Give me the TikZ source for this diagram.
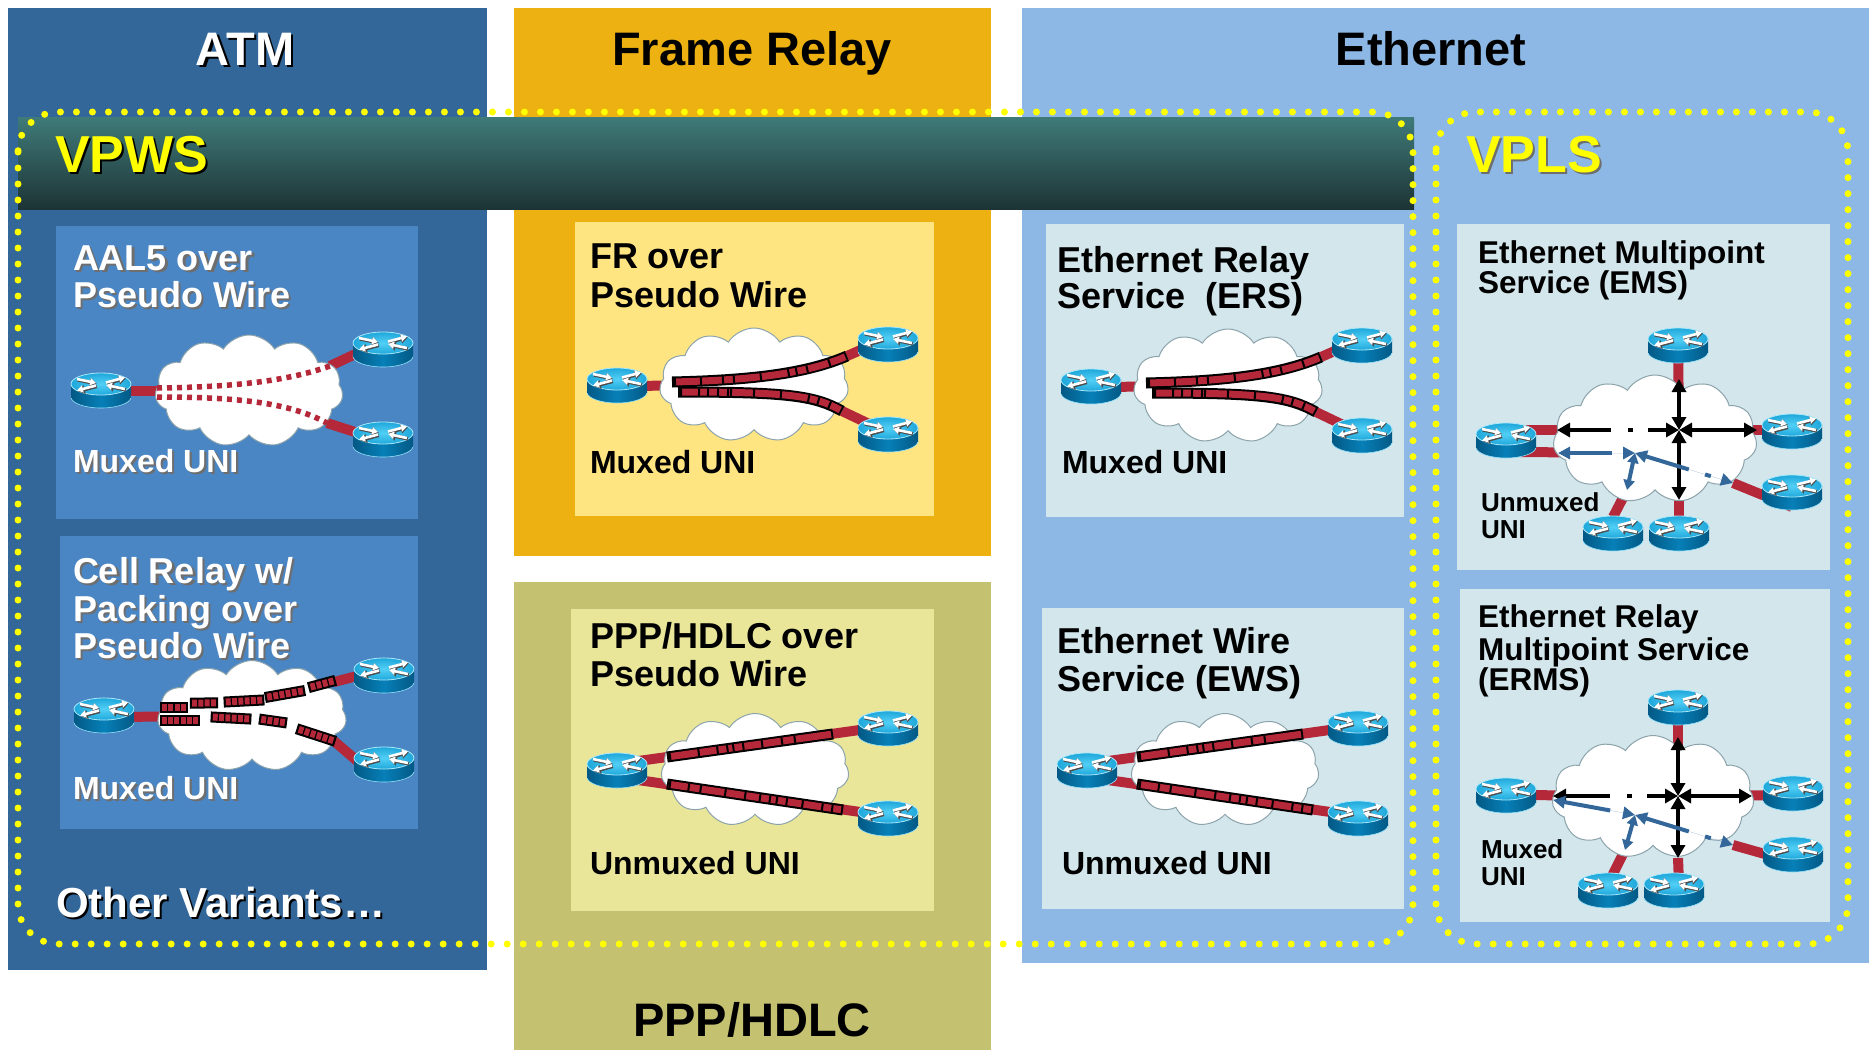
\documentclass[tikz,border=0pt]{standalone}
\usepackage{fontspec}
\setmainfont{Liberation Sans}
\usetikzlibrary{shapes.symbols,arrows.meta}

\definecolor{cAtm}{HTML}{336699}
\definecolor{cAtmBox}{HTML}{4A85C4}
\definecolor{cFr}{HTML}{EDB111}
\definecolor{cFrBox}{HTML}{FFE581}
\definecolor{cPpp}{HTML}{C4C170}
\definecolor{cPppBox}{HTML}{E9E69A}
\definecolor{cEth}{HTML}{8DB8E5}
\definecolor{cEthBox}{HTML}{D2E6EC}
\definecolor{cBandTop}{HTML}{3F7B79}
\definecolor{cBandBot}{HTML}{1D3335}
\definecolor{cDot}{HTML}{FFFF00}
\definecolor{cWire}{HTML}{B5283A}
\definecolor{cRtop}{HTML}{1FA8DB}
\definecolor{cRtopIn}{HTML}{52CFF6}
\definecolor{cRside}{HTML}{0780B8}
\definecolor{cRsideDark}{HTML}{035985}
\definecolor{cCloudEdge}{HTML}{8CA3AB}
\definecolor{cFlow}{HTML}{336699}
\definecolor{cSoftShadow}{HTML}{6E6E6E}

\pgfdeclarelayer{panel}
\pgfdeclarelayer{wire}
\pgfdeclarelayer{cloudlayer}
\pgfdeclarelayer{topmost}
\pgfsetlayers{panel,wire,cloudlayer,main,topmost}

\newcommand\fsz[1]{\fontsize{#1}{#1}\selectfont\bfseries}

\tikzset{
  panelbox/.style={anchor=north west, inner sep=0pt, outer sep=0pt},
  lbl/.style={anchor=base west, inner sep=0pt, outer sep=0pt},
  headlbl/.style={anchor=base, inner sep=0pt, outer sep=0pt, font=\fsz{47}},
  ttl/.style={lbl, font=\fsz{36}},
  uni/.style={lbl, font=\fsz{32}},
  vttl/.style={lbl, font=\fsz{31.5}},
  vuni/.style={lbl, font=\fsz{26}},
  rtrnode/.style={inner sep=0pt, outer sep=0pt, minimum width=60pt, minimum height=24pt},
  cloudsh/.style={cloud, cloud puffs=11, cloud puff arc=115, cloud ignores aspect,
    fill=white, draw=cCloudEdge, line width=1pt, inner sep=0pt},
  link/.style={draw=cWire, line width=10pt},
  reddots/.style={draw=cWire, line width=5.5pt, dash pattern=on 5pt off 5pt},
  bandblack/.style={draw=black, line width=11pt},
  bandred/.style={draw=cWire, line width=7pt, shorten <=2pt, shorten >=2pt},
  bandsep/.style={draw=black, line width=7.5pt, shorten <=2pt, shorten >=2pt},
  ydots/.style={draw=cDot, line width=7pt, line cap=round, dash pattern=on 0pt off 16pt, rounded corners=40pt},
  blk/.style={draw=black, line width=4.5pt, arrows={Triangle[length=13pt,width=14pt]-Triangle[length=13pt,width=14pt]}},
  blu/.style={draw=cFlow, fill=cFlow, line width=4pt, arrows={Triangle[length=12pt,width=12pt]-Triangle[length=12pt,width=12pt]}},
  blushort/.style={draw=cFlow, fill=cFlow, line width=4pt, arrows={Triangle[length=10pt,width=11pt]-Triangle[length=10pt,width=11pt]}},
  router/.pic={
    \shadedraw[left color=cRsideDark, right color=cRsideDark, middle color=cRside,
      draw=cRtopIn!60!white, line width=0.6pt] (0,13) ellipse[x radius=30, y radius=11];
    \shade[left color=cRsideDark, right color=cRsideDark, middle color=cRside] (-30,0) rectangle (30,13);
    \shadedraw[inner color=cRtopIn, outer color=cRtop, draw=cRtopIn!50!white, line width=0.8pt]
      (0,0) ellipse[x radius=30, y radius=11];
    \begin{scope}[black!70, line width=3.6pt, arrows={-Triangle[length=7pt,width=8.5pt]}, xshift=0.8pt, yshift=-0.8pt]
      \draw (-24,-5) -- (-5,-1);
      \draw (24,5) -- (5,1);
      \draw (5,-1.5) -- (24,-6.5);
      \draw (-5,1.5) -- (-24,6.5);
    \end{scope}
    \begin{scope}[white, line width=2.6pt, arrows={-Triangle[length=6pt,width=7pt]}]
      \draw (-24,-5) -- (-5,-1);
      \draw (24,5) -- (5,1);
      \draw (5,-1.5) -- (24,-6.5);
      \draw (-5,1.5) -- (-24,6.5);
    \end{scope}
  }
}

% router: named anchor node plus the drawn icon
\newcommand\router[3]{\node[rtrnode] (#1) at (#2,#3) {};\pic at (#2,#3) {router};}
% cloud: name, x, y, width, height
\newcommand\cloudat[5]{\begin{pgfonlayer}{cloudlayer}\node[cloudsh, minimum width=#4pt, minimum height=#5pt] (#1) at (#2,#3) {};\end{pgfonlayer}}
% text with a drop shadow: name, x, y, style, shadow colour, text
\newcommand\shtext[6]{\node[#4, text=#5, xshift=2.2pt, yshift=-2.2pt] at (#2,#3) {#6};\node[#4] (#1) at (#2,#3) {#6};}
% framed red band with black frame separators
\newcommand\fband[2]{\draw[bandblack] #1;\draw[bandred] #1;\draw[bandsep,#2] #1;}
% ATM cell packet: x, y, angle, number of cells
\newcommand\cellpkt[4]{%
  \begin{scope}[shift={(#1,#2)}, rotate=#3]
    \pgfmathsetmacro\pktw{#4*6.3+3}
    \fill[black] ({-\pktw/2},-5.5) rectangle ({\pktw/2},5.5);
    \foreach \k in {1,...,#4}{\fill[cWire] ({-\pktw/2+2.2+(\k-1)*6.3},-3.5) rectangle ++(4.9,7);}
  \end{scope}}

% frame relay style network (muxed UNI, two curved frame streams)
\newcommand\frnet[1]{%
  \router{#1L}{617}{379}\router{#1RT}{888}{338}\router{#1RB}{888}{428}%
  \cloudat{#1C}{754}{385}{189}{114}%
  \coordinate (#1u0) at (672,382);\coordinate (#1u1) at (847,356);%
  \coordinate (#1l0) at (678,392);\coordinate (#1l1) at (842,411);%
  \begin{pgfonlayer}{wire}
    \draw[link] ([yshift=-7pt]#1L.center) -- (#1C.center);
    \draw[link] (#1u1) -- (#1RT.center);
    \draw[link] (#1l1) -- ([yshift=-5pt]#1RB.center);
  \end{pgfonlayer}
  \fband{(#1u0) .. controls (760,380) and (810,372) .. (#1u1)}{dash pattern=on 2pt off 24pt on 2pt off 20pt on 2pt off 9pt on 2pt off 25pt on 2pt off 26pt on 2pt off 6pt on 2pt off 9pt on 2pt off 21pt on 2pt off 60pt}
  \fband{(#1l0) .. controls (790,392) and (815,396) .. (#1l1)}{dash pattern=on 2pt off 16pt on 2pt off 7pt on 2pt off 8pt on 2pt off 8pt on 2pt off 1pt on 2pt off 21pt on 2pt off 25pt on 2pt off 26pt on 2pt off 8pt on 2pt off 10pt on 2pt off 60pt}
}

% point-to-point network (unmuxed UNI, two separate links)
\newcommand\pppnet[1]{%
  \router{#1L}{617}{764}\router{#1RT}{888}{722}\router{#1RB}{888}{812}%
  \cloudat{#1C}{755}{770}{188}{113}%
  \begin{pgfonlayer}{wire}
    \draw[link] (#1L.center) -- ([yshift=-4pt]#1RT.center);
    \draw[link] ([yshift=-13pt]#1L.center) -- ([yshift=-4pt]#1RB.center);
  \end{pgfonlayer}
  \fband{(667,757) -- (833,734)}{dash pattern=on 2pt off 27pt on 2pt off 17pt on 2pt off 8pt on 2pt off 4pt on 2pt off 8pt on 2pt off 17pt on 2pt off 18pt on 2pt off 11pt on 2pt off 80pt}
  \fband{(667,784) -- (843,810)}{dash pattern=on 2pt off 17pt on 2pt off 10pt on 2pt off 23pt on 2pt off 18pt on 2pt off 13pt on 2pt off 8pt on 2pt off 5pt on 2pt off 8pt on 2pt off 14pt on 2pt off 18pt on 2pt off 8pt on 2pt off 60pt}
}

\begin{document}
\begin{tikzpicture}[x=1pt,y=-1pt]
\useasboundingbox (0,0) rectangle (1869,1050);

% ---------- columns, band and service boxes ----------
\begin{pgfonlayer}{panel}
  \fill[white] (0,0) rectangle (1869,1050);
  \node[panelbox, fill=cAtm, minimum width=479pt, minimum height=962pt] (atm) at (8,8) {};
  \node[panelbox, fill=cFr, minimum width=477pt, minimum height=548pt] (fr) at (514,8) {};
  \node[panelbox, fill=cPpp, minimum width=477pt, minimum height=468pt] (ppp) at (514,582) {};
  \node[panelbox, fill=cEth, minimum width=847pt, minimum height=955pt] (eth) at (1022,8) {};
  \node[panelbox, top color=cBandTop, bottom color=cBandBot, minimum width=1396pt, minimum height=92pt] (vpwsband) at (18,117) {};
  \node[panelbox, fill=cAtmBox, minimum width=362pt, minimum height=293pt] (aalbox) at (56,226) {};
  \node[panelbox, fill=cAtmBox, minimum width=358pt, minimum height=293pt] (cellbox) at (60,536) {};
  \node[panelbox, fill=cFrBox, minimum width=359pt, minimum height=294pt] (frpwbox) at (575,222) {};
  \node[panelbox, fill=cPppBox, minimum width=363pt, minimum height=302pt] (ppppwbox) at (571,609) {};
  \node[panelbox, fill=cEthBox, minimum width=358pt, minimum height=293pt] (ersbox) at (1046,224) {};
  \node[panelbox, fill=cEthBox, minimum width=362pt, minimum height=301pt] (ewsbox) at (1042,608) {};
  \node[panelbox, fill=cEthBox, minimum width=373pt, minimum height=346pt] (emsbox) at (1457,224) {};
  \node[panelbox, fill=cEthBox, minimum width=370pt, minimum height=333pt] (ermsbox) at (1460,589) {};
\end{pgfonlayer}

% ---------- headings ----------
\shtext{atmhead}{245}{65}{headlbl,text=white}{black}{ATM}
\node[headlbl] (frhead) at (752,65) {Frame Relay};
\node[headlbl] (ethhead) at (1431,65) {Ethernet};
\node[headlbl] (ppphead) at (752,1036) {PPP/HDLC};
\shtext{vpwslbl}{55}{172}{lbl,font=\fsz{52},text=cDot}{black}{VPWS}
\shtext{vplslbl}{1466}{172}{lbl,font=\fsz{52},text=cDot}{cSoftShadow}{VPLS}

% ---------- service titles ----------
\shtext{aalA}{73}{270}{ttl,text=white}{cSoftShadow}{AAL5 over}
\shtext{aalB}{73}{307}{ttl,text=white}{cSoftShadow}{Pseudo Wire}
\shtext{aalC}{73}{472}{uni,text=white}{cSoftShadow}{Muxed UNI}
\shtext{crA}{73}{583}{ttl,text=white}{cSoftShadow}{Cell Relay w/}
\shtext{crB}{73}{621}{ttl,text=white}{cSoftShadow}{Packing over}
\shtext{crC}{73}{658}{ttl,text=white}{cSoftShadow}{Pseudo Wire}
\shtext{crD}{73}{799}{uni,text=white}{cSoftShadow}{Muxed UNI}
\shtext{otherlbl}{56}{917}{lbl,font=\fsz{42},text=white}{black}{Other Variants…}

\node[ttl] (frA) at (590,268) {FR over};
\node[ttl] (frB) at (590,307) {Pseudo Wire};
\node[uni] (frC) at (590,473) {Muxed UNI};
\node[ttl] (pppA) at (590,648) {PPP/HDLC over};
\node[ttl] (pppB) at (590,686) {Pseudo Wire};
\node[uni] (pppC) at (590,874) {Unmuxed UNI};
\node[ttl] (ersA) at (1057,272) {Ethernet Relay};
\node[ttl] (ersB) at (1057,308) {Service~~(ERS)};
\node[uni] (ersC) at (1062,473) {Muxed UNI};
\node[ttl] (ewsA) at (1057,653) {Ethernet Wire};
\node[ttl] (ewsB) at (1057,691) {Service (EWS)};
\node[uni] (ewsC) at (1062,874) {Unmuxed UNI};
\node[vttl] (emsA) at (1478,263) {Ethernet Multipoint};
\node[vttl] (emsB) at (1478,293) {Service (EMS)};
\node[vuni] (emsC) at (1481,511) {Unmuxed};
\node[vuni] (emsD) at (1481,538) {UNI};
\node[vttl] (ermsA) at (1478,627) {Ethernet Relay};
\node[vttl] (ermsB) at (1478,660) {Multipoint Service};
\node[vttl] (ermsC) at (1478,690) {(ERMS)};
\node[vuni] (ermsD) at (1481,858) {Muxed};
\node[vuni] (ermsE) at (1481,885) {UNI};

% ---------- AAL5 over pseudo wire ----------
\cloudat{aC}{249}{391}{188}{112}
\coordinate (aU1) at (330,366);
\coordinate (aL1) at (327,423);
\draw[reddots] (157,388) .. controls (240,387) and (290,380) .. (aU1);
\draw[reddots] (157,397) .. controls (240,397) and (290,403) .. (aL1);
\router{aL}{101}{384}
\router{aRT}{383}{343}
\router{aRB}{383}{433}
\begin{pgfonlayer}{wire}
  \draw[link] ([yshift=-7pt]aL.center) -- (aC.center);
  \draw[link] (aU1) -- ([yshift=2pt]aRT.center);
  \draw[link] (aL1) -- ([yshift=-8pt]aRB.center);
\end{pgfonlayer}

% ---------- cell relay with packing ----------
\cloudat{cC}{252}{716}{189}{111}
\coordinate (cU1) at (334,682);
\coordinate (cL1) at (334,741);
\router{cL}{104}{709}
\router{cRT}{384}{669}
\router{cRB}{384}{758}
\begin{pgfonlayer}{wire}
  \draw[link] ([yshift=-8pt]cL.center) -- (cC.center);
  \draw[link] (cU1) -- (cRT.center);
  \draw[link] (cL1) -- ([xshift=-14pt,yshift=-14pt]cRB.center);
\end{pgfonlayer}
\cellpkt{174}{707}{0}{4}
\cellpkt{204}{703}{1}{4}
\cellpkt{244}{701}{3}{6}
\cellpkt{285}{694}{10}{6}
\cellpkt{322}{684}{15}{4}
\cellpkt{180}{720}{0}{6}
\cellpkt{231}{718}{-3}{6}
\cellpkt{273}{721}{-8}{4}
\cellpkt{316}{735}{-18}{6}

% ---------- FR and ERS ----------
\frnet{f}
\begin{scope}[shift={(474,1)}]
  \frnet{e}
\end{scope}

% ---------- PPP/HDLC and EWS ----------
\pppnet{p}
\begin{scope}[shift={(470,0)}]
  \pppnet{w}
\end{scope}

% ---------- EMS ----------
\router{mT}{1678}{339}
\router{mL}{1506}{434}
\router{mR1}{1792}{425}
\router{mR2}{1792}{486}
\router{mB1}{1613}{527}
\router{mB2}{1679}{527}
\cloudat{mC}{1655}{439}{204}{128}
\coordinate (mH) at (1679,430);
\coordinate (mH2) at (1635,453);
\coordinate (mN) at (1679,379);
\coordinate (mS) at (1679,500);
\coordinate (mE) at (1757,430);
\coordinate (mW) at (1557,430);
\coordinate (mW2) at (1558,453);
\coordinate (mSE) at (1733,483);
\coordinate (mSW) at (1627,490);
\begin{pgfonlayer}{wire}
  \draw[link] (mT.center) -- (mH);
  \draw[link] ([yshift=4pt]mL.center) -- (mH);
  \draw[link] ([xshift=14pt,yshift=-18pt]mL.center) -- (mH2);
  \draw[link] (mH) -- ([yshift=-5pt]mR1.center);
  \draw[link] (mSE) -- ([yshift=-21pt]mR2.center);
  \draw[link] (mSW) -- ([yshift=10pt]mB1.center);
  \draw[link] (mS) -- (mB2.center);
\end{pgfonlayer}
\draw[blk] (mH) -- (mN);
\draw[blk] (mH) -- (mS);
\draw[blk] (mH) -- (mE);
\draw[blk, dash pattern=on 19pt off 15pt on 5pt off 17pt on 200pt off 1pt] (mH) -- (mW);
\draw[blu, dash pattern=on 200pt off 12pt, dash phase=200pt] (mH2) -- (mW2);
\draw[blu, dash pattern=on 45pt off 17pt on 6pt off 100pt] (mH2) -- (mSE);
\draw[blushort] (mH2) -- (mSW);

% ---------- ERMS ----------
\router{nT}{1678}{701}
\router{nL}{1506}{789}
\router{nR1}{1793}{787}
\router{nR2}{1793}{848}
\router{nB1}{1608}{884}
\router{nB2}{1674}{884}
\cloudat{nC}{1653}{797}{202}{123}
\coordinate (nH) at (1678,796);
\coordinate (nH2) at (1635,815);
\coordinate (nN) at (1678,737);
\coordinate (nS) at (1678,858);
\coordinate (nE) at (1752,796);
\coordinate (nW) at (1553,796);
\coordinate (nW2) at (1553,800);
\coordinate (nSE) at (1733,845);
\coordinate (nSW) at (1625,850);
\begin{pgfonlayer}{wire}
  \draw[link] (nT.center) -- (nH);
  \draw[link] ([yshift=-6pt]nL.center) -- (nH);
  \draw[link] (nH) -- ([yshift=-8pt]nR1.center);
  \draw[link] (nSE) -- ([yshift=-14pt]nR2.center);
  \draw[link] (nSW) -- (nB1.center);
  \draw[link] (nS) -- ([xshift=5pt]nB2.center);
\end{pgfonlayer}
\draw[blk] (nH) -- (nN);
\draw[blk] (nH) -- (nS);
\draw[blk] (nH) -- (nE);
\draw[blk, dash pattern=on 19pt off 15pt on 5pt off 17pt on 200pt off 1pt] (nH) -- (nW);
\draw[blu, dash pattern=on 200pt off 14pt, dash phase=200pt] (nH2) -- (nW2);
\draw[blu, dash pattern=on 45pt off 17pt on 6pt off 100pt] (nH2) -- (nSE);
\draw[blushort] (nH2) -- (nSW);

% ---------- VPWS / VPLS outlines ----------
\begin{pgfonlayer}{topmost}
  \draw[ydots] (18,112) rectangle (1413,944);
  \draw[ydots] (1436,112) rectangle (1848,944);
\end{pgfonlayer}
\end{tikzpicture}
\end{document}
